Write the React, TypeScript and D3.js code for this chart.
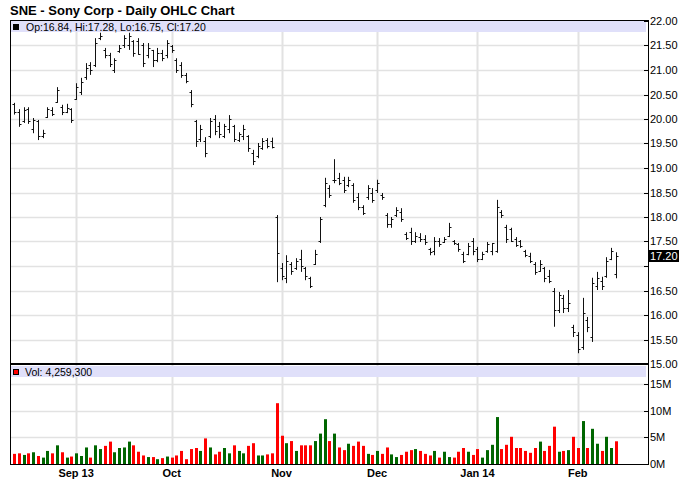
import React from "react";
import * as d3 from "d3";

const dates = [
  "2013-08-14","2013-08-15","2013-08-16","2013-08-19","2013-08-20","2013-08-21","2013-08-22","2013-08-23","2013-08-26","2013-08-27","2013-08-28","2013-08-29","2013-08-30",
  "2013-09-03","2013-09-04","2013-09-05","2013-09-06","2013-09-09","2013-09-10","2013-09-11","2013-09-12","2013-09-13","2013-09-16","2013-09-17","2013-09-18","2013-09-19","2013-09-20","2013-09-23","2013-09-24","2013-09-25","2013-09-26","2013-09-27","2013-09-30",
  "2013-10-01","2013-10-02","2013-10-03","2013-10-04","2013-10-07","2013-10-08","2013-10-09","2013-10-10","2013-10-11","2013-10-14","2013-10-15","2013-10-16","2013-10-17","2013-10-18","2013-10-21","2013-10-22","2013-10-23","2013-10-24","2013-10-25","2013-10-28","2013-10-29","2013-10-30","2013-10-31",
  "2013-11-01","2013-11-04","2013-11-05","2013-11-06","2013-11-07","2013-11-08","2013-11-11","2013-11-12","2013-11-13","2013-11-14","2013-11-15","2013-11-18","2013-11-19","2013-11-20","2013-11-21","2013-11-22","2013-11-25","2013-11-26","2013-11-27","2013-11-29",
  "2013-12-02","2013-12-03","2013-12-04","2013-12-05","2013-12-06","2013-12-09","2013-12-10","2013-12-11","2013-12-12","2013-12-13","2013-12-16","2013-12-17","2013-12-18","2013-12-19","2013-12-20","2013-12-23","2013-12-24","2013-12-26","2013-12-27","2013-12-30","2013-12-31",
  "2014-01-02","2014-01-03","2014-01-06","2014-01-07","2014-01-08","2014-01-09","2014-01-10","2014-01-13","2014-01-14","2014-01-15","2014-01-16","2014-01-17","2014-01-21","2014-01-22","2014-01-23","2014-01-24","2014-01-27","2014-01-28","2014-01-29","2014-01-30","2014-01-31",
  "2014-02-03","2014-02-04","2014-02-05","2014-02-06","2014-02-07","2014-02-10","2014-02-11","2014-02-12","2014-02-13"
];

const opens = [
  20.30,20.15,19.95,20.20,19.80,19.95,19.65,20.05,20.18,20.35,20.25,20.15,20.20,
  20.40,20.55,20.85,21.10,21.10,21.65,21.40,21.30,21.00,21.38,21.50,21.50,21.60,21.60,21.50,21.30,21.40,21.20,21.35,21.30,
  21.48,21.20,21.10,20.90,20.55,19.95,19.60,19.55,19.65,20.00,19.85,19.65,19.80,19.85,19.58,19.65,19.65,19.30,19.25,19.40,19.58,19.55,18.00,
  16.95,16.75,17.05,16.95,17.15,16.95,16.75,17.05,17.50,18.25,18.60,18.75,18.80,18.75,18.65,18.65,18.40,18.20,18.40,18.50,
  18.55,18.45,18.05,17.85,18.05,18.10,17.65,17.70,17.50,17.60,17.55,17.35,17.30,17.50,17.48,17.62,17.50,17.45,17.25,17.25,17.50,
  17.35,17.15,17.30,17.30,17.30,18.10,17.80,17.75,17.55,17.50,17.30,17.20,17.05,16.90,16.95,16.80,16.50,16.10,16.35,16.15,15.75,
  15.60,15.35,15.90,15.55,16.60,16.70,16.80,17.15,16.84
];

const highs = [
  20.33,20.20,20.24,20.24,20.02,19.98,19.78,20.24,20.24,20.65,20.29,20.31,20.22,
  20.73,20.84,21.14,21.16,21.65,21.76,21.45,21.35,21.24,21.51,21.71,21.76,21.61,21.65,21.55,21.55,21.41,21.45,21.41,21.61,
  21.51,21.24,21.16,20.94,20.59,19.98,19.88,19.63,20.02,20.08,19.94,19.90,20.08,19.88,19.73,19.88,19.67,19.37,19.51,19.61,19.61,19.62,18.04,
  17.06,17.22,17.08,17.16,17.33,16.98,16.78,17.33,18.00,18.80,18.65,19.18,18.90,18.82,18.82,18.69,18.49,18.24,18.65,18.59,
  18.76,18.49,18.08,18.00,18.20,18.18,17.69,17.78,17.69,17.67,17.63,17.37,17.59,17.57,17.59,17.88,17.53,17.47,17.29,17.47,17.57,
  17.39,17.29,17.49,17.47,18.35,18.14,17.84,17.78,17.59,17.53,17.33,17.27,17.08,17.12,16.98,16.92,16.55,16.47,16.41,16.51,15.80,
  15.65,16.35,15.96,16.76,16.88,16.78,17.18,17.37,17.28
];

const lows = [
  20.09,19.84,19.92,19.90,19.71,19.57,19.61,20.02,20.06,20.33,20.08,20.12,19.92,
  20.39,20.49,20.80,20.90,21.06,21.61,21.24,21.06,20.94,21.35,21.45,21.41,21.27,21.31,21.06,21.24,21.06,21.16,21.18,21.24,
  21.35,20.94,20.84,20.73,20.24,19.43,19.53,19.22,19.61,19.67,19.61,19.61,19.71,19.53,19.53,19.57,19.33,19.06,19.20,19.37,19.40,19.40,16.67,
  16.71,16.65,16.82,16.92,16.88,16.71,16.55,17.02,17.47,18.20,18.39,18.69,18.65,18.49,18.61,18.29,18.14,18.04,18.35,18.29,
  18.49,18.35,17.78,17.78,18.00,17.90,17.53,17.43,17.47,17.49,17.43,17.22,17.22,17.39,17.47,17.59,17.43,17.29,17.06,17.22,17.22,
  17.08,17.12,17.27,17.22,17.27,17.98,17.47,17.49,17.39,17.37,17.18,17.06,16.82,16.88,16.67,16.65,15.76,16.04,16.04,16.06,15.55,
  15.22,15.29,15.65,15.45,16.51,16.51,16.76,17.12,16.75
];

const closes = [
  20.15,19.90,20.18,19.95,19.98,19.65,19.72,20.20,20.10,20.60,20.15,20.22,19.98,
  20.65,20.75,21.05,21.00,21.55,21.70,21.30,21.12,21.20,21.45,21.65,21.70,21.35,21.33,21.15,21.45,21.20,21.35,21.25,21.55,
  21.40,21.00,20.90,20.78,20.30,19.55,19.80,19.30,19.95,19.75,19.70,19.85,20.00,19.60,19.70,19.80,19.40,19.15,19.45,19.55,19.45,19.42,17.27,
  16.80,17.10,16.90,17.10,17.00,16.80,16.60,17.25,17.95,18.70,18.45,18.75,18.70,18.55,18.75,18.35,18.20,18.08,18.60,18.35,
  18.70,18.40,17.85,17.95,18.15,17.95,17.58,17.50,17.62,17.55,17.48,17.28,17.50,17.45,17.55,17.80,17.47,17.35,17.10,17.40,17.30,
  17.15,17.25,17.45,17.46,18.20,18.05,17.55,17.52,17.42,17.40,17.22,17.10,16.88,17.05,16.75,16.70,16.10,16.40,16.15,16.25,15.65,
  15.30,16.05,15.75,16.65,16.75,16.60,17.10,17.30,17.20
];

// volume in millions of shares
const volumes = [
  1.9,2.0,1.7,2.0,2.2,1.5,1.2,2.45,2.0,3.5,2.2,1.2,1.4,
  2.0,1.5,3.1,1.2,3.5,2.8,3.4,4.2,2.2,3.0,3.1,4.2,3.5,2.3,1.6,1.3,1.3,0.9,1.1,1.4,
  1.2,1.6,2.45,0.9,2.8,3.0,2.45,4.8,3.1,1.8,2.3,3.0,2.0,3.5,2.45,2.0,3.4,3.9,1.6,1.6,1.8,2.0,11.4,
  5.3,3.9,4.3,2.45,3.5,3.5,3.5,4.3,5.7,8.4,4.3,5.7,3.1,2.6,3.8,3.4,4.2,3.4,1.9,1.7,
  2.45,1.9,3.1,1.8,1.3,1.7,2.3,2.6,2.8,2.45,1.9,1.6,2.45,1.2,2.3,1.3,1.2,2.3,3.0,2.3,1.7,
  2.8,1.2,2.6,3.6,8.8,2.8,3.6,5.1,3.0,3.0,2.45,2.1,3.0,4.2,2.45,3.4,7.0,2.3,2.45,2.6,5.1,
  3.0,8.05,3.0,6.6,3.8,2.45,5.1,3.0,4.2593
];

const monthTickDates = ["2013-09-03","2013-10-01","2013-11-01","2013-12-02","2014-01-02","2014-02-03"];
const monthTickLabels = ["Sep 13","Oct","Nov","Dec","Jan 14","Feb"];
const priceTicks = [15, 15.5, 16, 16.5, 17, 17.5, 18, 18.5, 19, 19.5, 20, 20.5, 21, 21.5, 22];
const volTicks = [0, 5, 10, 15];

const FONT = "Arial, 'Liberation Sans', Helvetica, sans-serif";

export default function App() {
  const W = 688, H = 503;
  const left = 10, right = 648;
  const pTop = 21, pBottom = 364;
  const vBottom = 464;

  const x = d3.scalePoint<string>().domain(dates).range([left + 4, right - 32]);
  const yP = d3.scaleLinear().domain([15, 22]).range([pBottom, pTop]);
  const yV = d3.scaleLinear().domain([0, 15]).range([vBottom, 384]);
  const fmt2 = d3.format(".2f");
  const n = dates.length;
  const last = n - 1;
  const lastY = Math.round(yP(closes[last])) + 0.5;
  const volColor = (i: number) => {
    const up = i === 0 ? closes[i] >= opens[i] : closes[i] >= closes[i - 1];
    return up ? "#006600" : "#ff0000";
  };
  const cx = (d: string) => Math.round(x(d) as number) + 0.5;
  const grid = "#e2e2e2";

  return (
    <svg width={W} height={H} style={{ position: "absolute", left: 0, top: 0, background: "#fff" }} fontFamily={FONT}>
      <rect x={0} y={0} width={W} height={H} fill="#fff" />
      <text x={10} y={15} fontSize={13} fontWeight="bold" fill="#000">SNE - Sony Corp - Daily OHLC Chart</text>

      {/* horizontal gridlines price */}
      {priceTicks.filter(t => t > 15 && t < 22).map(t => (
        <line key={"pg" + t} x1={left} x2={right} y1={Math.round(yP(t)) + 0.5} y2={Math.round(yP(t)) + 0.5} stroke={grid} strokeWidth={1.5} />
      ))}
      {/* horizontal gridlines volume */}
      {volTicks.filter(t => t > 0).map(t => (
        <line key={"vg" + t} x1={left} x2={right} y1={Math.round(yV(t)) + 0.5} y2={Math.round(yV(t)) + 0.5} stroke={grid} strokeWidth={1.5} />
      ))}
      {/* vertical month gridlines */}
      {monthTickDates.map(d => (
        <g key={"mg" + d}>
          <line x1={cx(d)} x2={cx(d)} y1={pTop} y2={pBottom} stroke={grid} strokeWidth={2} />
          <line x1={cx(d)} x2={cx(d)} y1={pBottom} y2={vBottom} stroke={grid} strokeWidth={2} />
        </g>
      ))}

      {/* legend bands */}
      <rect x={left + 1} y={pTop} width={right - left - 3} height={11} fill="#e0e0fa" />
      <rect x={left + 1} y={366} width={right - left - 3} height={11} fill="#e0e0fa" />

      {/* OHLC bars */}
      {dates.map((d, i) => {
        const xc = cx(d);
        return (
          <g key={"b" + d} stroke="#111" strokeWidth={1}>
            <line x1={xc} x2={xc} y1={yP(highs[i])} y2={yP(lows[i])} />
            <line x1={xc - 2} x2={xc} y1={Math.round(yP(opens[i])) + 0.5} y2={Math.round(yP(opens[i])) + 0.5} />
            <line x1={xc} x2={xc + 2} y1={Math.round(yP(closes[i])) + 0.5} y2={Math.round(yP(closes[i])) + 0.5} />
          </g>
        );
      })}

      {/* volume bars */}
      {dates.map((d, i) => {
        const xc = Math.round(x(d) as number);
        return (
          <rect key={"v" + d} x={xc - 1} y={yV(volumes[i])} width={3} height={vBottom - yV(volumes[i])} fill={volColor(i)} />
        );
      })}

      {/* legends */}
      <rect x={13.5} y={24.5} width={5} height={5} fill="#000" stroke="#000" />
      <text x={26} y={30.5} fontSize={10.5} fill="#000">
        {`Op:${fmt2(opens[last])}, Hi:${fmt2(highs[last])}, Lo:${fmt2(lows[last])}, Cl:${fmt2(closes[last])}`}
      </text>
      <rect x={13.5} y={369.5} width={5} height={5} fill="#ff0000" stroke="#000" />
      <text x={25} y={375.5} fontSize={10.5} fill="#000">
        {`Vol: ${d3.format(",")(Math.round(volumes[last] * 1e6))}`}
      </text>

      {/* frame */}
      <line x1={left + 0.5} x2={left + 0.5} y1={20} y2={vBottom + 1} stroke="#000" strokeWidth={1} />
      <line x1={left} x2={right + 1} y1={20.5} y2={20.5} stroke="#000" strokeWidth={1} />
      <line x1={right + 0.5} x2={right + 0.5} y1={20} y2={vBottom + 1} stroke="#000" strokeWidth={1} />
      <line x1={left} x2={right + 1} y1={pBottom} y2={pBottom} stroke="#000" strokeWidth={2} />
      <line x1={left} x2={right + 1} y1={vBottom + 0.5} y2={vBottom + 0.5} stroke="#000" strokeWidth={1} />

      {/* price axis */}
      {priceTicks.map(t => {
        const y = Math.round(yP(t)) + 0.5;
        const hidden = Math.abs(y - lastY) < 12;
        return (
          <g key={"pt" + t}>
            <line x1={right - 4} x2={right} y1={y} y2={y} stroke="#000" />
            {!hidden && <text x={right + 2} y={y} dy="0.35em" fontSize={11} fill="#000">{fmt2(t)}</text>}
          </g>
        );
      })}
      {/* volume axis */}
      {volTicks.map(t => {
        const y = Math.round(yV(t)) + 0.5;
        return (
          <g key={"vt" + t}>
            <line x1={right - 4} x2={right} y1={y} y2={y} stroke="#000" />
            <text x={right + 2} y={y} dy="0.35em" fontSize={11} fill="#000">{`${t}M`}</text>
          </g>
        );
      })}

      {/* last price marker */}
      <rect x={right + 1} y={lastY - 6.5} width={30} height={12} fill="#000" />
      <text x={right + 2} y={lastY} dy="0.35em" fontSize={11} fill="#fff">{fmt2(closes[last])}</text>

      {/* x axis labels */}
      {monthTickDates.map((d, i) => (
        <text key={"xl" + d} x={x(d) as number} y={477} textAnchor="middle" fontSize={11} fontWeight="bold" fill="#000">
          {monthTickLabels[i]}
        </text>
      ))}
    </svg>
  );
}
